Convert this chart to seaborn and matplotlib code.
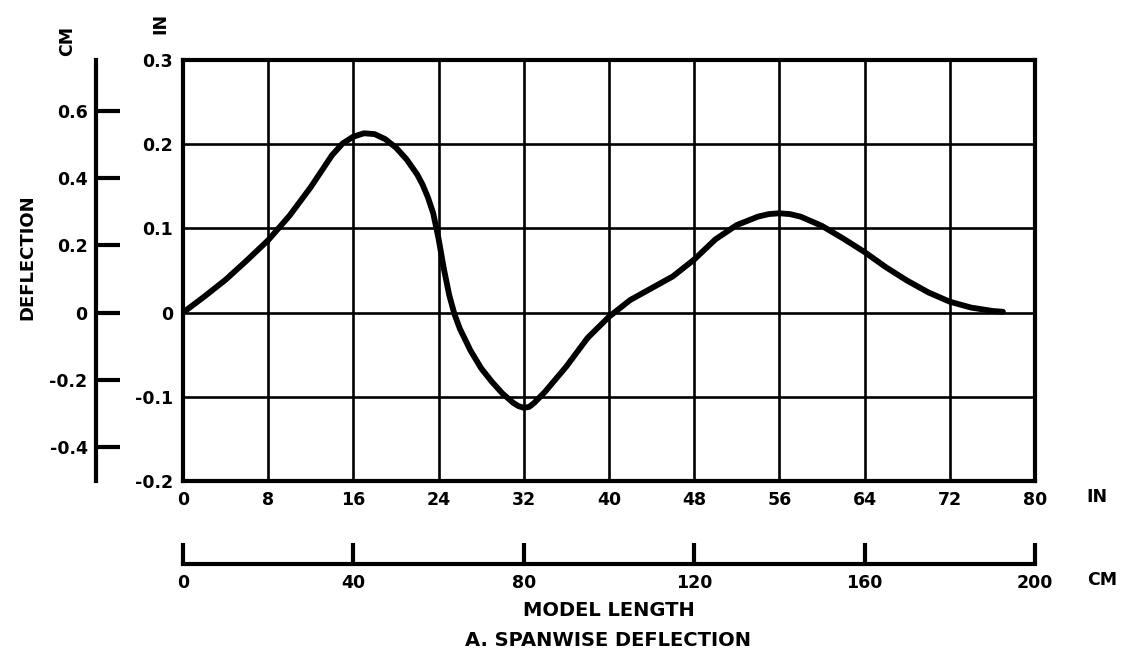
import matplotlib
matplotlib.use("Agg")
import matplotlib.pyplot as plt
import seaborn as sns
import pandas as pd

# Spanwise deflection of the model (inches) along its length (inches)
span_in = [0, 2, 4, 6, 8, 10, 12, 13, 14, 15, 16, 17, 18, 19, 20, 21, 22, 22.5, 23,
           23.5, 24, 24.5, 25, 25.5, 26, 27, 28, 29, 30, 31, 31.5, 32, 32.5, 33,
           34, 35, 36, 38, 40, 42, 44, 46, 48, 50, 52, 54, 55, 56, 57, 58, 60, 62,
           64, 66, 68, 70, 72, 74, 76, 77]
deflection_in = [0.0, 0.019, 0.039, 0.062, 0.086, 0.115, 0.149, 0.168, 0.187, 0.201,
                 0.209, 0.213, 0.212, 0.206, 0.196, 0.182, 0.164, 0.152, 0.137,
                 0.118, 0.088, 0.052, 0.021, -0.002, -0.019, -0.045, -0.066, -0.082,
                 -0.096, -0.107, -0.111, -0.113, -0.112, -0.107, -0.094, -0.079,
                 -0.064, -0.030, -0.005, 0.015, 0.029, 0.043, 0.063, 0.087, 0.104,
                 0.114, 0.117, 0.118, 0.117, 0.114, 0.103, 0.088, 0.072, 0.054, 0.038,
                 0.024, 0.013, 0.006, 0.002, 0.001]

x_ticks_in = [0, 8, 16, 24, 32, 40, 48, 56, 64, 72, 80]
y_ticks_in = [-0.2, -0.1, 0, 0.1, 0.2, 0.3]
y_tick_labels_in = ["-0.2", "-0.1", "0", "0.1", "0.2", "0.3"]
x_ticks_cm = [0, 40, 80, 120, 160, 200]
y_ticks_cm = [-0.4, -0.2, 0, 0.2, 0.4, 0.6]
y_tick_labels_cm = ["-0.4", "-0.2", "0", "0.2", "0.4", "0.6"]
CM_PER_IN = 2.5  # scale used on the drawing's metric rulers

sns.set_style("white")
plt.rcParams["font.family"] = ["DejaVu Sans"]
plt.rcParams["font.weight"] = "bold"

fig = plt.figure(figsize=(11.21, 6.51), dpi=100)

L, B, W, H = 0.1632, 0.2611, 0.7600, 0.6467
ax = fig.add_axes([L, B, W, H])
df = pd.DataFrame({"x": span_in, "y": deflection_in})
sns.lineplot(data=df, x="x", y="y", ax=ax, color="black", linewidth=4.2,
             sort=False, estimator=None, zorder=5)
ax.lines[-1].set_solid_joinstyle("round")
ax.lines[-1].set_solid_capstyle("round")
ax.set_xlim(x_ticks_in[0], x_ticks_in[-1])
ax.set_ylim(y_ticks_in[0], y_ticks_in[-1])
ax.set_xticks(x_ticks_in)
ax.set_yticks(y_ticks_in)
ax.set_yticklabels(y_tick_labels_in)
ax.set_xlabel("")
ax.set_ylabel("")
ax.grid(True, color="black", linewidth=1.9)
for s in ax.spines.values():
    s.set_visible(True)
    s.set_color("black")
    s.set_linewidth(3)
ax.tick_params(axis="both", length=0, labelsize=12.5, pad=7, colors="black")
for t in ax.get_xticklabels() + ax.get_yticklabels():
    t.set_fontweight("bold")

# Metric ruler for deflection on the left
axl = fig.add_axes([0.0856, B, 0.0005, H])
axl.set_facecolor("none")
axl.set_ylim(y_ticks_in[0] * CM_PER_IN, y_ticks_in[-1] * CM_PER_IN)
axl.set_yticks(y_ticks_cm)
axl.set_yticklabels(y_tick_labels_cm)
axl.set_xticks([])
for k in ["top", "right", "bottom"]:
    axl.spines[k].set_visible(False)
axl.spines["left"].set_visible(True)
axl.spines["left"].set_color("black")
axl.spines["left"].set_linewidth(3)
axl.tick_params(axis="y", left=True, direction="in", length=17, width=3,
                labelsize=12.5, pad=6, colors="black")
for t in axl.get_yticklabels():
    t.set_fontweight("bold")

# Metric ruler for model length below
axb = fig.add_axes([L, 0.1336, W, 0.0005])
axb.set_facecolor("none")
axb.set_xlim(x_ticks_in[0] * CM_PER_IN, x_ticks_in[-1] * CM_PER_IN)
axb.set_xticks(x_ticks_cm)
axb.set_yticks([])
for k in ["top", "right", "left"]:
    axb.spines[k].set_visible(False)
axb.spines["bottom"].set_visible(True)
axb.spines["bottom"].set_color("black")
axb.spines["bottom"].set_linewidth(3)
axb.tick_params(axis="x", bottom=True, direction="in", length=15, width=3,
                labelsize=12.5, pad=7, colors="black")
for t in axb.get_xticklabels():
    t.set_fontweight("bold")

# Unit and axis captions
tk = dict(fontweight="bold", color="black", ha="center", va="center")
fig.text(1097 / 1121, 1 - 497 / 651, "IN", fontsize=12.5, **tk)
fig.text(1102 / 1121, 1 - 580 / 651, "CM", fontsize=12.5, **tk)
fig.text(160 / 1121, 1 - 23 / 651, "IN", fontsize=12.5, rotation=90, **tk)
fig.text(67 / 1121, 1 - 41 / 651, "CM", fontsize=12.5, rotation=90, **tk)
fig.text(27 / 1121, 1 - 257 / 651, "DEFLECTION", fontsize=13, rotation=90, **tk)
fig.text(609 / 1121, 1 - 610 / 651, "MODEL LENGTH", fontsize=14, **tk)
fig.text(608 / 1121, 1 - 640 / 651, "A. SPANWISE DEFLECTION", fontsize=14, **tk)

fig.savefig("out.png", dpi=100, facecolor="white")
